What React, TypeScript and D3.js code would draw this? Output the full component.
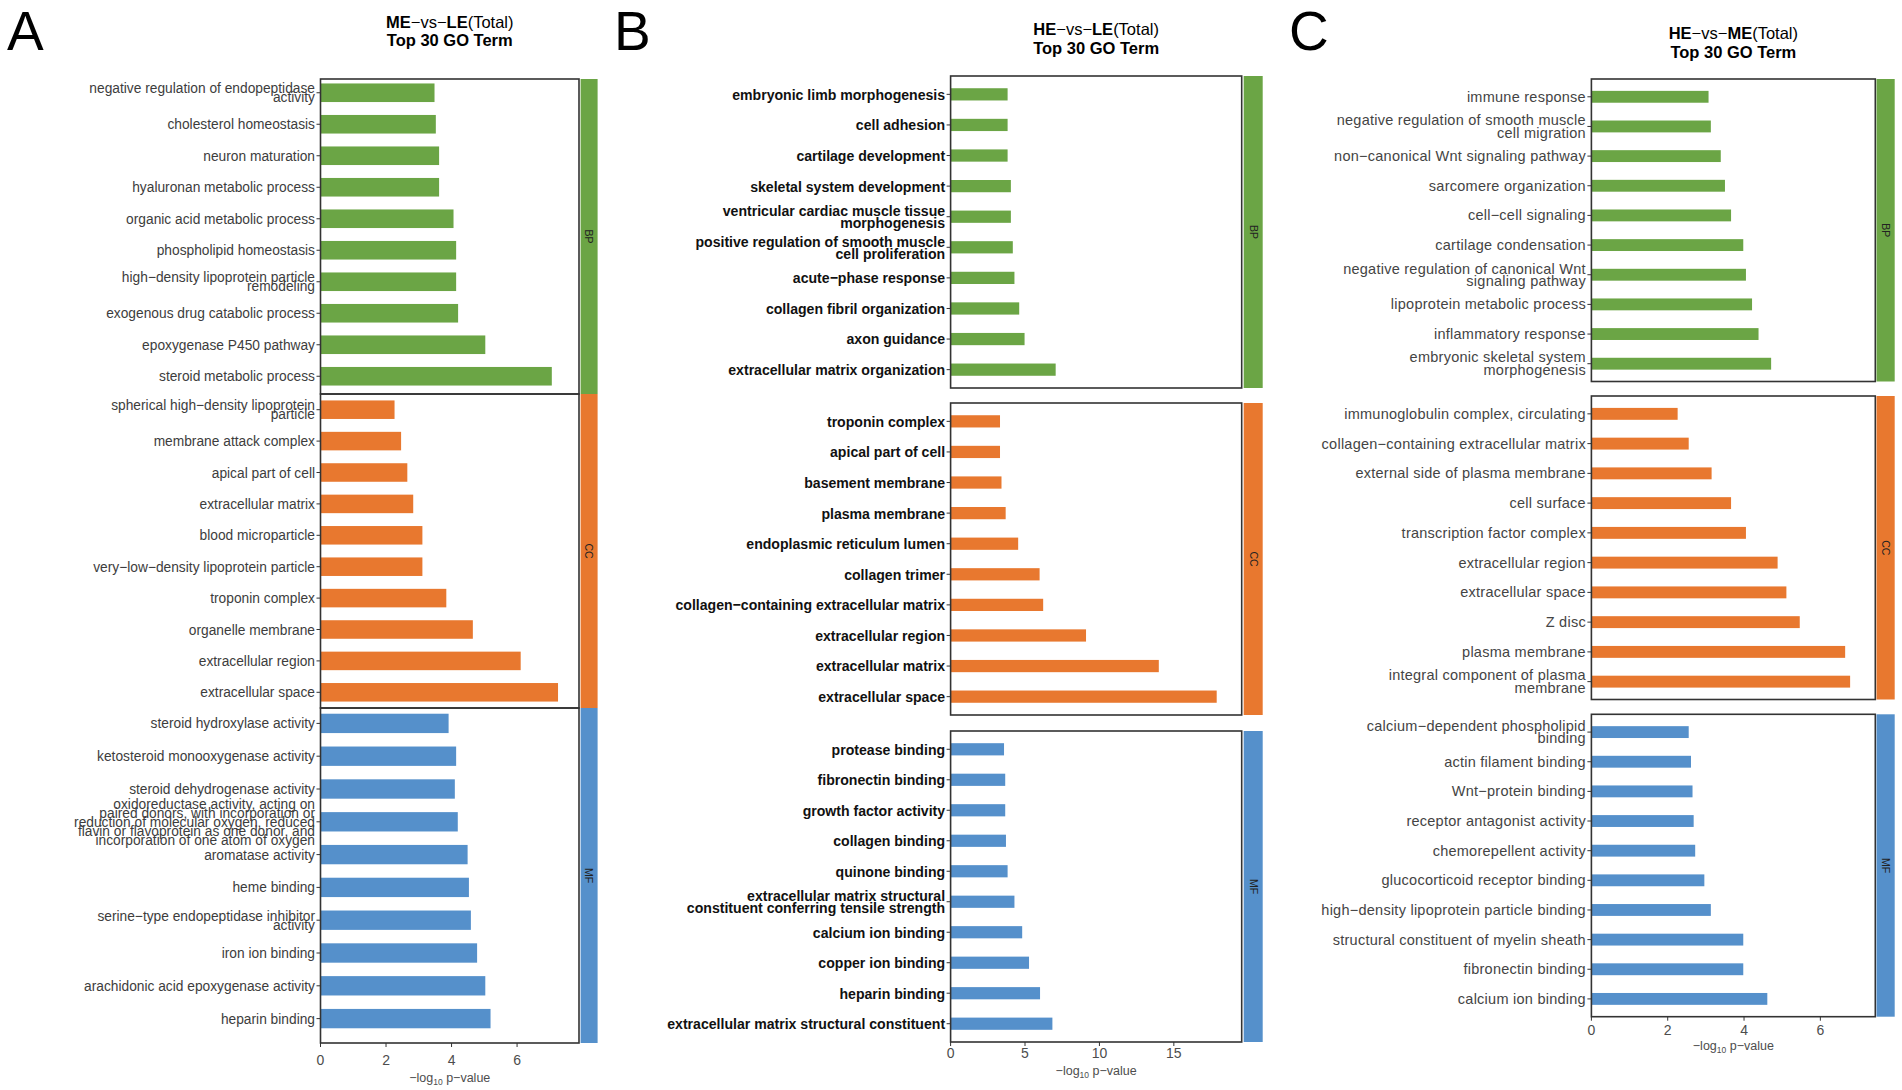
import { useEffect, useRef } from 'react';
import * as d3 from 'd3';

const SANS = "'Liberation Sans', Arial, sans-serif";

const GREEN = '#6ba545';
const ORANGE = '#e8782f';
const BLUE = '#5590cb';
const categoryColors = [GREEN, ORANGE, BLUE];
const categoryNames = ['BP', 'CC', 'MF'];

// ---- Panel A: ME-vs-LE ----
const aBpTerms = [
  'negative regulation of endopeptidase\nactivity',
  'cholesterol homeostasis',
  'neuron maturation',
  'hyaluronan metabolic process',
  'organic acid metabolic process',
  'phospholipid homeostasis',
  'high\u2212density lipoprotein particle\nremodeling',
  'exogenous drug catabolic process',
  'epoxygenase P450 pathway',
  'steroid metabolic process',
];
const aBpValues = [3.48, 3.52, 3.62, 3.62, 4.06, 4.14, 4.14, 4.2, 5.03, 7.06];

const aCcTerms = [
  'spherical high\u2212density lipoprotein\nparticle',
  'membrane attack complex',
  'apical part of cell',
  'extracellular matrix',
  'blood microparticle',
  'very\u2212low\u2212density lipoprotein particle',
  'troponin complex',
  'organelle membrane',
  'extracellular region',
  'extracellular space',
];
const aCcValues = [2.26, 2.46, 2.65, 2.83, 3.11, 3.11, 3.84, 4.65, 6.11, 7.25];

const aMfTerms = [
  'steroid hydroxylase activity',
  'ketosteroid monooxygenase activity',
  'steroid dehydrogenase activity',
  'oxidoreductase activity, acting on\npaired donors, with incorporation or\nreduction of molecular oxygen, reduced\nflavin or flavoprotein as one donor, and\nincorporation of one atom of oxygen',
  'aromatase activity',
  'heme binding',
  'serine\u2212type endopeptidase inhibitor\nactivity',
  'iron ion binding',
  'arachidonic acid epoxygenase activity',
  'heparin binding',
];
const aMfValues = [3.91, 4.14, 4.1, 4.19, 4.49, 4.53, 4.59, 4.78, 5.03, 5.19];

// ---- Panel B: HE-vs-LE ----
const bBpTerms = [
  'embryonic limb morphogenesis',
  'cell adhesion',
  'cartilage development',
  'skeletal system development',
  'ventricular cardiac muscle tissue\nmorphogenesis',
  'positive regulation of smooth muscle\ncell proliferation',
  'acute\u2212phase response',
  'collagen fibril organization',
  'axon guidance',
  'extracellular matrix organization',
];
const bBpValues = [3.83, 3.83, 3.83, 4.05, 4.05, 4.18, 4.29, 4.61, 4.97, 7.06];

const bCcTerms = [
  'troponin complex',
  'apical part of cell',
  'basement membrane',
  'plasma membrane',
  'endoplasmic reticulum lumen',
  'collagen trimer',
  'collagen\u2212containing extracellular matrix',
  'extracellular region',
  'extracellular matrix',
  'extracellular space',
];
const bCcValues = [3.32, 3.32, 3.42, 3.7, 4.54, 5.98, 6.22, 9.1, 13.99, 17.88];

const bMfTerms = [
  'protease binding',
  'fibronectin binding',
  'growth factor activity',
  'collagen binding',
  'quinone binding',
  'extracellular matrix structural\nconstituent conferring tensile strength',
  'calcium ion binding',
  'copper ion binding',
  'heparin binding',
  'extracellular matrix structural constituent',
];
const bMfValues = [3.59, 3.67, 3.67, 3.72, 3.83, 4.29, 4.81, 5.27, 6.01, 6.84];

// ---- Panel C: HE-vs-ME ----
const cBpTerms = [
  'immune response',
  'negative regulation of smooth muscle\ncell migration',
  'non\u2212canonical Wnt signaling pathway',
  'sarcomere organization',
  'cell\u2212cell signaling',
  'cartilage condensation',
  'negative regulation of canonical Wnt\nsignaling pathway',
  'lipoprotein metabolic process',
  'inflammatory response',
  'embryonic skeletal system\nmorphogenesis',
];
const cBpValues = [3.07, 3.13, 3.39, 3.5, 3.66, 3.98, 4.05, 4.21, 4.38, 4.71];

const cCcTerms = [
  'immunoglobulin complex, circulating',
  'collagen\u2212containing extracellular matrix',
  'external side of plasma membrane',
  'cell surface',
  'transcription factor complex',
  'extracellular region',
  'extracellular space',
  'Z disc',
  'plasma membrane',
  'integral component of plasma\nmembrane',
];
const cCcValues = [2.26, 2.55, 3.15, 3.66, 4.05, 4.88, 5.11, 5.46, 6.65, 6.78];

const cMfTerms = [
  'calcium\u2212dependent phospholipid\nbinding',
  'actin filament binding',
  'Wnt\u2212protein binding',
  'receptor antagonist activity',
  'chemorepellent activity',
  'glucocorticoid receptor binding',
  'high\u2212density lipoprotein particle binding',
  'structural constituent of myelin sheath',
  'fibronectin binding',
  'calcium ion binding',
];
const cMfValues = [2.55, 2.61, 2.65, 2.68, 2.72, 2.96, 3.13, 3.98, 3.98, 4.61];

const ticksA = [0, 2, 4, 6];
const ticksB = [0, 5, 10, 15];
const ticksC = [0, 2, 4, 6];

const titleA = [['ME', true], ['\u2212vs\u2212', false], ['LE', true], ['(Total)', false]];
const titleB = [['HE', true], ['\u2212vs\u2212', false], ['LE', true], ['(Total)', false]];
const titleC = [['HE', true], ['\u2212vs\u2212', false], ['ME', true], ['(Total)', false]];

const panels = [
  {
    letter: 'A', letterX: 7, title: titleA, titleY: [28, 46],
    left: 320.5, right: 579,
    facets: [[79, 394], [394, 708], [708, 1043]],
    bands: [[77, 392], [394, 708], [707, 1035]],
    padding: 0.5, barFrac: 0.59, strip: [580.6, 597.6],
    xMax: 7.89, ticks: ticksA, tickY: 1065, axisTitleY: 1082,
    label: { size: 14.5, weight: 400, fill: '#3d3d3d', gap: 9, sx: 0.95, ls: 0 },
    data: [[aBpTerms, aBpValues], [aCcTerms, aCcValues], [aMfTerms, aMfValues]],
  },
  {
    letter: 'B', letterX: 614, title: titleB, titleY: [35, 54],
    left: 950.6, right: 1241.7,
    facets: [[76, 388], [403, 715], [731, 1042]],
    bands: [[76, 388], [403, 715], [731, 1042]],
    padding: 0.6, barFrac: 0.4, strip: [1243.7, 1262.7],
    xMax: 19.56, ticks: ticksB, tickY: 1058, axisTitleY: 1075,
    label: { size: 15.5, weight: 700, fill: '#111', gap: 12, sx: 0.91, ls: 0 },
    data: [[bBpTerms, bBpValues], [bCcTerms, bCcValues], [bMfTerms, bMfValues]],
  },
  {
    letter: 'C', letterX: 1289, title: titleC, titleY: [39, 58],
    left: 1591.4, right: 1875.3,
    facets: [[79, 381.5], [396, 699.5], [714.3, 1016.7]],
    bands: [[79, 381.5], [396, 699.5], [714.3, 1016.7]],
    padding: 0.6, barFrac: 0.4, strip: [1876.5, 1894.7],
    xMax: 7.44, ticks: ticksC, tickY: 1035, axisTitleY: 1050,
    label: { size: 14.5, weight: 400, fill: '#444', gap: 12.6, sx: 1, ls: 0.25 },
    data: [[cBpTerms, cBpValues], [cCcTerms, cCcValues], [cMfTerms, cMfValues]],
  },
];

export default function App() {
  const svgRef = useRef<SVGSVGElement>(null);

  useEffect(() => {
    document.body.style.margin = '0';
    if (!svgRef.current) return;
    const svg = d3.select(svgRef.current);
    svg.selectAll('*').remove();

    panels.forEach((p) => {
      const g = svg.append('g');

      // panel letter
      g.append('text')
        .attr('x', p.letterX)
        .attr('y', 50)
        .attr('font-family', SANS)
        .attr('font-size', 55)
        .attr('fill', '#000')
        .text(p.letter);

      const cx = (p.left + p.right) / 2;
      const t1 = g.append('text')
        .attr('x', cx)
        .attr('y', p.titleY[0])
        .attr('text-anchor', 'middle')
        .attr('font-family', SANS)
        .attr('font-size', 16.5)
        .attr('fill', '#000');
      p.title.forEach(([s, bold]) => {
        t1.append('tspan')
          .attr('font-weight', bold ? 900 : 400)
          .text(s as string);
      });
      g.append('text')
        .attr('x', cx)
        .attr('y', p.titleY[1])
        .attr('text-anchor', 'middle')
        .attr('font-family', SANS)
        .attr('font-size', 16.5)
        .attr('font-weight', 700)
        .attr('fill', '#000')
        .text('Top 30 GO Term');

      const x = d3.scaleLinear().domain([0, p.xMax]).range([p.left, p.right]);

      p.data.forEach(([terms, values], fi) => {
        const [y0, y1] = p.facets[fi];
        const y = d3.scalePoint<string>()
          .domain(terms as string[])
          .range(p.bands[fi] as [number, number])
          .padding(p.padding);
        const barH = y.step() * p.barFrac;

        // bars
        g.selectAll(null)
          .data(terms as string[])
          .enter()
          .append('rect')
          .attr('x', x(0))
          .attr('y', (d) => (y(d) as number) - barH / 2)
          .attr('width', (_d, i) => x((values as number[])[i]) - x(0))
          .attr('height', barH)
          .attr('fill', categoryColors[fi]);

        // panel border
        g.append('rect')
          .attr('x', p.left)
          .attr('y', y0)
          .attr('width', p.right - p.left)
          .attr('height', y1 - y0)
          .attr('fill', 'none')
          .attr('stroke', '#333')
          .attr('stroke-width', 1.6);

        // y ticks + labels
        (terms as string[]).forEach((term) => {
          const cy = y(term) as number;
          g.append('line')
            .attr('x1', p.left - 4)
            .attr('x2', p.left)
            .attr('y1', cy)
            .attr('y2', cy)
            .attr('stroke', '#333')
            .attr('stroke-width', 1);
          const lines = term.split('\n');
          const txt = g.append('text')
            .attr('transform', `translate(${p.left - 5.5},0) scale(${p.label.sx},1)`)
            .attr('text-anchor', 'end')
            .attr('font-family', SANS)
            .attr('font-size', p.label.size)
            .attr('font-weight', p.label.weight)
            .attr('letter-spacing', p.label.ls)
            .attr('fill', p.label.fill);
          lines.forEach((ln, li) => {
            txt.append('tspan')
              .attr('x', 0)
              .attr('y', cy + (li - (lines.length - 1) / 2) * p.label.gap)
              .attr('dy', '0.35em')
              .text(ln);
          });
        });

        // strip
        g.append('rect')
          .attr('x', p.strip[0])
          .attr('y', y0)
          .attr('width', p.strip[1] - p.strip[0])
          .attr('height', y1 - y0)
          .attr('fill', categoryColors[fi]);
        const sx = (p.strip[0] + p.strip[1]) / 2;
        const sy = (y0 + y1) / 2;
        g.append('text')
          .attr('transform', `translate(${sx},${sy}) rotate(90)`)
          .attr('text-anchor', 'middle')
          .attr('dy', '0.35em')
          .attr('font-family', SANS)
          .attr('font-size', 10.5)
          .attr('fill', '#222')
          .text(categoryNames[fi]);
      });

      // x axis
      const yb = p.facets[2][1];
      p.ticks.forEach((t) => {
        g.append('line')
          .attr('x1', x(t))
          .attr('x2', x(t))
          .attr('y1', yb)
          .attr('y2', yb + 4)
          .attr('stroke', '#333')
          .attr('stroke-width', 1);
        g.append('text')
          .attr('x', x(t))
          .attr('y', p.tickY)
          .attr('text-anchor', 'middle')
          .attr('font-family', SANS)
          .attr('font-size', 14)
          .attr('fill', '#4d4d4d')
          .text(String(t));
      });
      const at = g.append('text')
        .attr('x', cx)
        .attr('y', p.axisTitleY)
        .attr('text-anchor', 'middle')
        .attr('font-family', SANS)
        .attr('font-size', 12.5)
        .attr('fill', '#4d4d4d');
      at.append('tspan').text('\u2212log');
      at.append('tspan').attr('font-size', 8.5).attr('dy', 3).text('10');
      at.append('tspan').attr('dy', -3).text(' p\u2212value');
    });
  }, []);

  return (
    <svg
      ref={svgRef}
      width={1902}
      height={1090}
      style={{ display: 'block', background: '#fff' }}
    />
  );
}
